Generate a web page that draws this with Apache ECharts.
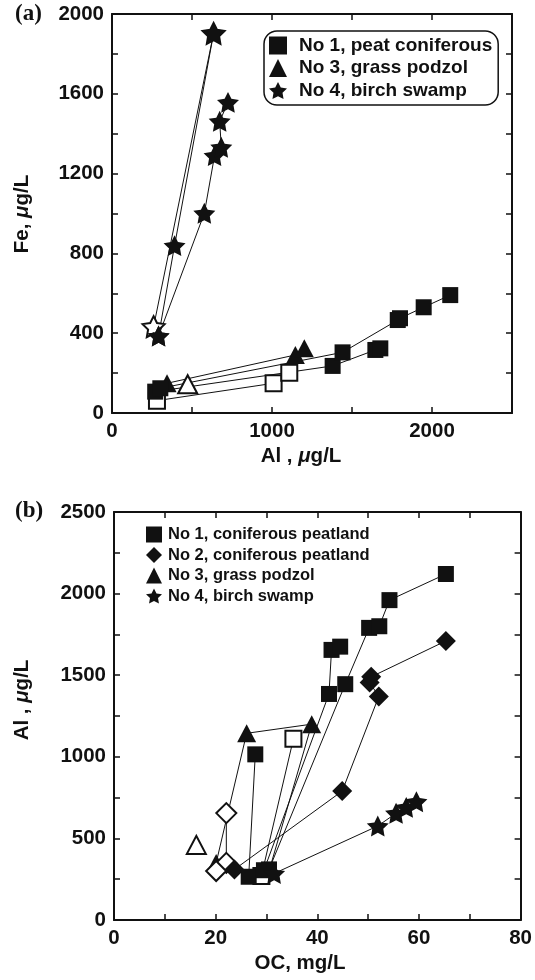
<!DOCTYPE html>
<html><head><meta charset="utf-8">
<script src="https://cdn.jsdelivr.net/npm/echarts@6/dist/echarts.min.js"></script>
<style>html,body{margin:0;padding:0;background:#fff}#c{width:535px;height:980px}</style>
</head><body><div id="c"></div>
<script>
// ---------- Panel (a): Fe vs Al ----------
const aXTicks = [0, 1000, 2000];
const aYTicks = [0, 400, 800, 1200, 1600, 2000];
const aSquarePathA = [[302,124],[1441,304],[1786,466],[1800,475],[1948,530],[2114,591]];
const aSquarePathB = [[270,107],[1379,236],[1646,316],[1677,324]];
const aSquareOpenPath = [[281,62],[1010,149],[1108,202]];
const aTrianglePath = [[344,149],[1146,291],[1202,324]];
const aTriangleOpen = [[473,144]];
const aStarOpenPath = [[260,433],[635,1903]];
const aStarPathA = [[291,386],[391,839],[635,1903]];
const aStarPathB = [[291,386],[577,1001],[641,1290],[683,1332],[673,1462],[725,1557]];
const aLegend = ['No 1, peat coniferous', 'No 3, grass podzol', 'No 4, birch swamp'];

// ---------- Panel (b): Al vs OC ----------
const bXTicks = [0, 20, 40, 60, 80];
const bYTicks = [0, 500, 1000, 1500, 2000, 2500];
const bSquarePathA = [[26.5,265],[27.8,1015]];
const bSquarePathB = [[29.5,305],[42.3,1385],[42.8,1655],[44.5,1675]];
const bSquarePathC = [[30.5,310],[45.5,1445],[50.2,1790],[52.2,1800],[54.2,1960],[65.3,2120]];
const bSquareOpenPath = [[29,270],[35.3,1110]];
const bDiamondPath = [[23.7,310],[44.9,790],[52.1,1370],[50.3,1455],[50.6,1490],[65.3,1710]];
const bDiamondOpenPath = [[22.1,655],[22.1,350]];
const bDiamondOpenSingle = [[20.1,300]];
const bTrianglePath = [[20.1,350],[26.1,1144],[38.9,1200],[30.5,300]];
const bTriangleOpen = [[16.2,460]];
const bStarPath = [[31.5,285],[51.9,576],[55.5,654],[57.5,690],[59.5,725]];
const bLegend = ['No 1, coniferous peatland', 'No 2, coniferous peatland', 'No 3, grass podzol', 'No 4, birch swamp'];

const INK = '#111';
const FONT = '"Liberation Sans", Arial, Helvetica, sans-serif';
const STAR = 'path://M50,2 L64.7,31.8 L97.6,36.5 L73.8,59.7 L79.4,92.5 L50,77 L20.6,92.5 L26.2,59.7 L2.4,36.5 L35.3,31.8 Z';
const SYM = {
  square: {symbol: 'rect', size: 16},
  triangle: {symbol: 'triangle', size: [19, 18]},
  diamond: {symbol: 'diamond', size: 20},
  star: {symbol: STAR, size: 22}
};

function path(panel, name, data, shape, open) {
  const s = SYM[shape];
  return {
    type: 'line', name: name, data: data,
    xAxisIndex: panel * 2, yAxisIndex: panel * 2,
    symbol: s.symbol, symbolSize: s.size, symbolKeepAspect: true,
    showSymbol: true, showAllSymbol: true, animation: false, silent: true,
    lineStyle: {color: INK, width: 1},
    itemStyle: open ? {color: '#fff', borderColor: INK, borderWidth: 2}
                    : {color: INK, borderColor: INK, borderWidth: 0},
    emphasis: {disabled: true}
  };
}

function axisX(grid, min, max, interval, labels, top) {
  return {
    type: 'value', gridIndex: grid, min: min, max: max, interval: interval,
    position: top ? 'top' : 'bottom',
    axisLine: {show: true, onZero: false, lineStyle: {color: INK, width: 2}},
    axisTick: {show: true, inside: true, length: 6, lineStyle: {color: INK, width: 1.5}},
    axisLabel: {show: !top, margin: 8, color: INK, fontFamily: FONT, fontWeight: 'bold', fontSize: 20.5,
      formatter: v => labels.includes(v) ? String(v) : ''},
    splitLine: {show: false}
  };
}
function axisY(grid, min, max, interval, labels, right) {
  return {
    type: 'value', gridIndex: grid, min: min, max: max, interval: interval,
    position: right ? 'right' : 'left',
    axisLine: {show: true, onZero: false, lineStyle: {color: INK, width: 2}},
    axisTick: {show: true, inside: true, length: 6, lineStyle: {color: INK, width: 1.5}},
    axisLabel: {show: !right, margin: 8, color: INK, fontFamily: FONT, fontWeight: 'bold', fontSize: 20.5,
      formatter: v => labels.includes(v) ? String(v) : ''},
    splitLine: {show: false}
  };
}

const richName = {
  b: {fontFamily: FONT, fontWeight: 'bold', fontSize: 20.5, fill: INK, color: INK},
  i: {fontFamily: FONT, fontWeight: 'bold', fontStyle: 'italic', fontSize: 20.5, fill: INK, color: INK}
};
function label(x, y, txt, rot) {
  return {type: 'text', x: x, y: y, rotation: rot || 0, silent: true,
    style: {text: txt, rich: richName, align: 'center', verticalAlign: 'middle',
      font: 'bold 20.5px ' + FONT, fill: INK}};
}

const option = {
  backgroundColor: '#fff',
  animation: false,
  grid: [
    {left: 112, top: 14, width: 400, height: 399, containLabel: false},
    {left: 114, top: 512, width: 410, height: 408, containLabel: false}
  ],
  xAxis: [
    axisX(0, 0, 2500, 500, aXTicks, false), axisX(0, 0, 2500, 500, aXTicks, true),
    axisX(1, 0, 80, 10, bXTicks, false), axisX(1, 0, 80, 10, bXTicks, true)
  ],
  yAxis: [
    axisY(0, 0, 2000, 200, aYTicks, false), axisY(0, 0, 2000, 200, aYTicks, true),
    axisY(1, 0, 2500, 250, bYTicks, false), axisY(1, 0, 2500, 250, bYTicks, true)
  ],
  legend: [
    {
      data: [{name: aLegend[0], icon: 'rect'}, {name: aLegend[1], icon: 'triangle'}, {name: aLegend[2], icon: STAR}],
      orient: 'vertical', left: 264, top: 31, itemWidth: 18, itemHeight: 18, itemGap: 3.5,
      selectedMode: false, borderColor: INK, borderWidth: 1.5, borderRadius: 13, padding: [5, 6, 5, 5],
      textStyle: {fontFamily: FONT, fontWeight: 'bold', fontSize: 19, color: INK, lineHeight: 18, padding: [0, 0, 0, 7]}
    },
    {
      data: [{name: bLegend[0], icon: 'rect'}, {name: bLegend[1], icon: 'diamond'}, {name: bLegend[2], icon: 'triangle'}, {name: bLegend[3], icon: STAR}],
      orient: 'vertical', left: 146, top: 526, itemWidth: 16, itemHeight: 16, itemGap: 3.5,
      selectedMode: false, padding: 0,
      textStyle: {fontFamily: FONT, fontWeight: 'bold', fontSize: 16.5, color: INK, lineHeight: 16, padding: [0, 0, 0, 1]}
    }
  ],
  graphic: [
    {type: 'text', left: 15, top: 3, silent: true, style: {text: '(a)', font: 'bold 23px "Liberation Serif", "Times New Roman", serif', fill: INK}},
    {type: 'text', left: 15, top: 500, silent: true, style: {text: '(b)', font: 'bold 23px "Liberation Serif", "Times New Roman", serif', fill: INK}},
    label(22, 214, '{b|Fe, }{i|μ}{b|g/L}', Math.PI / 2),
    label(301, 456, '{b|Al , }{i|μ}{b|g/L}', 0),
    label(22, 700, '{b|Al , }{i|μ}{b|g/L}', Math.PI / 2),
    label(300, 963, '{b|OC, mg/L}', 0)
  ],
  series: [
    path(0, 'a-open-star', aStarOpenPath, 'star', true),
    path(0, aLegend[2], aStarPathA, 'star', false),
    path(0, aLegend[2], aStarPathB, 'star', false),
    path(0, 'a-open-square', aSquareOpenPath, 'square', true),
    path(0, 'a-open-triangle', aTriangleOpen, 'triangle', true),
    path(0, aLegend[1], aTrianglePath, 'triangle', false),
    path(0, aLegend[0], aSquarePathB, 'square', false),
    path(0, aLegend[0], aSquarePathA, 'square', false),

    path(1, bLegend[2], bTrianglePath, 'triangle', false),
    path(1, 'b-open-triangle', bTriangleOpen, 'triangle', true),
    path(1, 'b-open-diamond', bDiamondOpenPath, 'diamond', true),
    path(1, 'b-open-diamond-single', bDiamondOpenSingle, 'diamond', true),
    path(1, bLegend[1], bDiamondPath, 'diamond', false),
    path(1, 'b-open-square', bSquareOpenPath, 'square', true),
    path(1, bLegend[0], bSquarePathA, 'square', false),
    path(1, bLegend[0], bSquarePathB, 'square', false),
    path(1, bLegend[0], bSquarePathC, 'square', false),
    path(1, bLegend[3], bStarPath, 'star', false)
  ]
};
const chart = echarts.init(document.getElementById('c'), null, {renderer: 'canvas'});
chart.setOption(option);
</script></body></html>
